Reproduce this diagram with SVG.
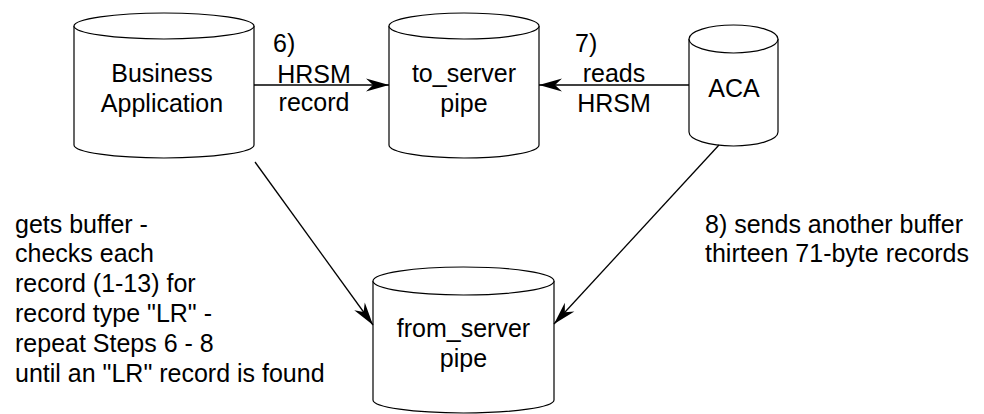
<svg xmlns="http://www.w3.org/2000/svg" width="984" height="414" viewBox="0 0 984 414">
<style>
.cyl{fill:#fff;stroke:#000;stroke-width:1.2}
.t{font-family:"Liberation Sans",Arial,sans-serif;font-size:25px;fill:#000}
.c{text-anchor:middle}
.ln{fill:none;stroke:#000;stroke-width:1.3}
</style>
<defs>
<marker id="ah" markerUnits="userSpaceOnUse" markerWidth="30" markerHeight="20" viewBox="-24 -10 26 20" refX="0" refY="0" orient="auto">
<path d="M0,0 L-23,-6.5 L-16,0 L-23,6.5 Z" fill="#000"/>
</marker>
</defs>
<rect width="984" height="414" fill="#fff"/>
<g id="business-application">
<path class="cyl" d="M74,26 L74,145 A90,13 0 0 0 254,145 L254,26"/>
<ellipse class="cyl" cx="164" cy="26" rx="90" ry="13"/>
<text class="t c" x="162" y="82">Business</text>
<text class="t c" x="162" y="112">Application</text>
</g>
<g id="to-server-pipe">
<path class="cyl" d="M389,26 L389,145 A75,13 0 0 0 539,145 L539,26"/>
<ellipse class="cyl" cx="464" cy="26" rx="75" ry="13"/>
<text class="t c" x="464" y="82">to_server</text>
<text class="t c" x="464" y="112">pipe</text>
</g>
<g id="aca">
<path class="cyl" d="M689,39 L689,132 A44.5,14 0 0 0 778,132 L778,39"/>
<ellipse class="cyl" cx="733.5" cy="39" rx="44.5" ry="14"/>
<text class="t c" x="734" y="97">ACA</text>
</g>
<g id="from-server-pipe">
<path class="cyl" d="M373,281 L373,400 A90.5,13 0 0 0 554,400 L554,281"/>
<ellipse class="cyl" cx="463.5" cy="281" rx="90.5" ry="14"/>
<text class="t c" x="463.5" y="337">from_server</text>
<text class="t c" x="463.5" y="367">pipe</text>
</g>
<g id="connectors">
<line class="ln" x1="254" y1="85" x2="389" y2="85" marker-end="url(#ah)"/>
<line class="ln" x1="689" y1="85" x2="539" y2="85" marker-end="url(#ah)"/>
<line class="ln" x1="255" y1="162" x2="373" y2="325" marker-end="url(#ah)"/>
<line class="ln" x1="719" y1="145" x2="554" y2="324" marker-end="url(#ah)"/>
</g>
<g id="labels">
<text class="t" x="273" y="52">6)</text>
<text class="t c" x="314" y="83">HRSM</text>
<text class="t c" x="314" y="111">record</text>
<text class="t" x="575" y="52">7)</text>
<text class="t c" x="614" y="82">reads</text>
<text class="t c" x="614" y="112">HRSM</text>
<text class="t" x="15" y="233">gets buffer -</text>
<text class="t" x="15" y="262">checks each</text>
<text class="t" x="15" y="292">record (1-13) for</text>
<text class="t" x="15" y="322">record type "LR" -</text>
<text class="t" x="15" y="352">repeat Steps 6 - 8</text>
<text class="t" x="15" y="382">until an "LR" record is found</text>
<text class="t" x="705" y="233">8) sends another buffer</text>
<text class="t" x="705" y="262">thirteen 71-byte records</text>
</g>
</svg>
